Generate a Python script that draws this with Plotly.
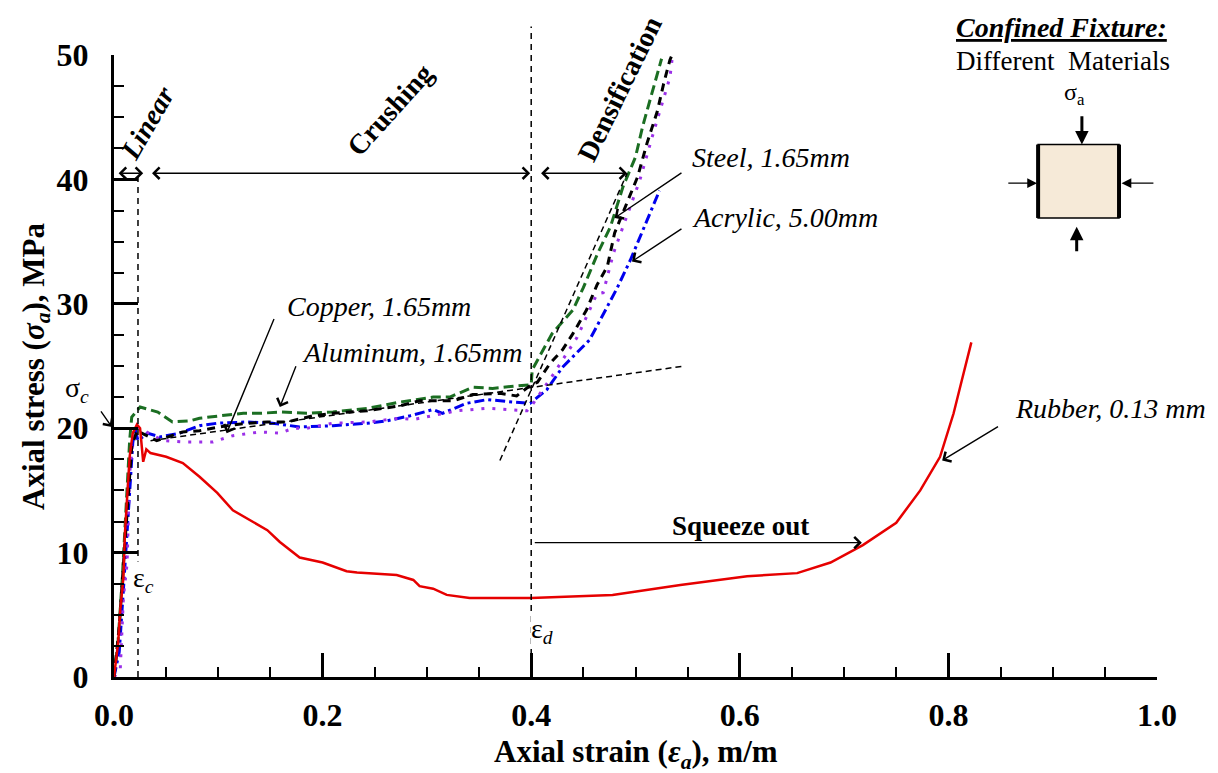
import plotly.graph_objects as go

# ---- axial strain (m/m) vs axial stress (MPa) for each specimen ----
rubber_strain = [0, 0.004, 0.006, 0.009, 0.0105, 0.0125, 0.015, 0.018, 0.022, 0.025, 0.028,
                 0.031, 0.035, 0.05, 0.066, 0.082, 0.099, 0.114, 0.13, 0.147, 0.159, 0.178,
                 0.200, 0.223, 0.233, 0.271, 0.287, 0.293, 0.306, 0.319, 0.341, 0.4, 0.478,
                 0.543, 0.607, 0.655, 0.687, 0.718, 0.75, 0.773, 0.792, 0.805, 0.813, 0.818, 0.822]
rubber_stress = [0, 2.8, 5.4, 8.0, 11.6, 14.5, 17.7, 19.6, 20.3, 20.0, 17.3,
                 18.3, 18.0, 17.7, 17.2, 16.1, 14.8, 13.4, 12.6, 11.8, 10.85, 9.6,
                 9.2, 8.5, 8.4, 8.2, 7.8, 7.3, 7.1, 6.6, 6.35, 6.35, 6.6,
                 7.4, 8.1, 8.35, 9.2, 10.6, 12.4, 15.0, 17.7, 21.2, 23.9, 25.5, 26.9]

aluminum_strain = [0, 0.004, 0.008, 0.012, 0.015, 0.017, 0.025, 0.042, 0.056, 0.073, 0.082,
                   0.102, 0.124, 0.140, 0.161, 0.185, 0.21, 0.243, 0.274, 0.306, 0.322, 0.344,
                   0.363, 0.386, 0.4, 0.401, 0.420, 0.440, 0.450, 0.464, 0.476, 0.488, 0.5,
                   0.507, 0.517, 0.525]
aluminum_stress = [0, 3, 8, 14, 19, 20.9, 21.7, 21.3, 20.5, 20.6, 20.8,
                   21.0, 21.2, 21.2, 21.3, 21.2, 21.3, 21.6, 22.1, 22.5, 22.5, 23.3,
                   23.2, 23.4, 23.5, 24.7, 27.6, 29.5, 31.3, 34.1, 36.2, 39.4, 41.8,
                   44.3, 47.2, 49.7]

acrylic_strain = [0, 0.005, 0.009, 0.013, 0.015, 0.018, 0.020, 0.023, 0.032, 0.044, 0.063,
                  0.082, 0.099, 0.128, 0.152, 0.178, 0.21, 0.243, 0.262, 0.284, 0.306, 0.315,
                  0.338, 0.358, 0.383, 0.399, 0.415, 0.430, 0.456, 0.469, 0.482, 0.495, 0.507,
                  0.523]
acrylic_stress = [0, 2, 7, 12.4, 15.6, 18.8, 20.0, 19.0, 19.6, 19.3, 19.6,
                  20.2, 20.4, 20.5, 20.4, 20.1, 20.2, 20.4, 20.6, 21.0, 21.5, 21.2,
                  22.0, 22.3, 22.1, 22.0, 23.1, 24.9, 27.1, 29.2, 31.2, 33.5, 35.9,
                  39.1]

steel_strain = [0, 0.005, 0.009, 0.013, 0.017, 0.022, 0.041, 0.066, 0.082, 0.108, 0.128,
                0.147, 0.166, 0.191, 0.21, 0.243, 0.274, 0.293, 0.325, 0.344, 0.370, 0.386,
                0.4, 0.406, 0.418, 0.430, 0.440, 0.453, 0.463, 0.473, 0.480, 0.502, 0.511,
                0.521, 0.527, 0.533, 0.535]
steel_stress = [0, 4, 9, 14, 18.5, 19.8, 19.0, 19.7, 19.8, 20.2, 20.4,
                20.5, 20.5, 21.0, 21.2, 21.4, 21.8, 22.2, 22.2, 22.7, 22.8, 22.6,
                23.5, 23.7, 25.2, 26.3, 27.6, 29.5, 31.5, 33.0, 35.7, 40.2, 42.9,
                45.5, 47.7, 49.6, 50.0]

copper_strain = [0, 0.006, 0.009, 0.0125, 0.015, 0.018, 0.022, 0.047, 0.066, 0.082, 0.095,
                 0.114, 0.140, 0.159, 0.172, 0.185, 0.21, 0.243, 0.274, 0.287, 0.329, 0.358,
                 0.396, 0.402, 0.421, 0.434, 0.444, 0.463, 0.469, 0.479, 0.492, 0.504, 0.517,
                 0.527, 0.533, 0.535]
copper_stress = [0, 0.6, 6.4, 9.1, 16.4, 18.8, 20.1, 19.0, 18.9, 18.9, 18.9,
                 19.4, 19.7, 19.6, 20.0, 20.0, 20.4, 20.5, 20.8, 20.7, 21.4, 21.6,
                 21.4, 22.0, 24.3, 26.0, 27.3, 30.8, 30.9, 34.1, 37.1, 39.9, 43.7,
                 46.4, 48.2, 49.6]

# fitted tangent lines used to locate the onset of densification
densif_fit_strain = [0.370, 0.492]
densif_fit_stress = [17.4, 40.5]
plateau_fit_strain = [0.035, 0.547]
plateau_fit_stress = [19.0, 25.0]

# characteristic points
eps_c = 0.023       # end of linear region
eps_d = 0.4         # onset of densification
sigma_c = 20.1      # crushing stress
region_arrow_y = 40.5

X_RANGE = [0, 1.0]
Y_RANGE = [0, 50]

FONT = "Liberation Serif"
W, H = 1218, 773
M = dict(l=114, r=61, t=55, b=96)


def xp(v):
    return (v - X_RANGE[0]) / (X_RANGE[1] - X_RANGE[0])


def yp(v):
    return (v - Y_RANGE[0]) / (Y_RANGE[1] - Y_RANGE[0])


fig = go.Figure()

series = [
    ("Aluminum, 1.65mm", aluminum_strain, aluminum_stress, "#1b6e22", "10px,5px", 3),
    ("Acrylic, 5.00mm", acrylic_strain, acrylic_stress, "#0000ee", "10px,4px,3px,4px", 3),
    ("Copper, 1.65mm", copper_strain, copper_stress, "#9b30e8", "3px,8px", 3),
    ("Steel, 1.65mm", steel_strain, steel_stress, "#000000", "8px,6px", 3),
    ("Rubber, 0.13 mm", rubber_strain, rubber_stress, "#e60000", "solid", 2.5),
]
for name, xs, ys, col, dash, w in series:
    fig.add_trace(go.Scatter(x=xs, y=ys, mode="lines", name=name,
                             line=dict(color=col, width=w, dash=dash)))

for xs, ys in [(densif_fit_strain, densif_fit_stress), (plateau_fit_strain, plateau_fit_stress)]:
    fig.add_trace(go.Scatter(x=xs, y=ys, mode="lines", showlegend=False, hoverinfo="skip",
                             line=dict(color="black", width=1.5, dash="6px,4px")))

shapes = [
    # end of the linear region
    dict(type="line", xref="x", yref="y", x0=eps_c, x1=eps_c, y0=0, y1=region_arrow_y,
         line=dict(color="black", width=1.5, dash="6px,5px")),
    # onset of densification, runs above the plot top
    dict(type="line", xref="paper", yref="paper", x0=xp(eps_d), x1=xp(eps_d), y0=0, y1=yp(52.3),
         line=dict(color="black", width=1.5, dash="6px,5px")),
    # specimen sketch
    dict(type="rect", xref="x", yref="y", x0=0.886, x1=0.9636, y0=36.9, y1=42.8,
         fillcolor="#f6ead8", line=dict(color="black", width=1.5)),
    dict(type="line", xref="x", yref="y", x0=0.886, x1=0.886, y0=36.9, y1=42.8,
         line=dict(color="black", width=4)),
    dict(type="line", xref="x", yref="y", x0=0.9636, x1=0.9636, y0=36.9, y1=42.8,
         line=dict(color="black", width=4)),
]


def arrow(xh, yh, xt, yt, both=False, head=4, size=1.6, width=1.4):
    d = dict(x=xh, y=yh, ax=xt, ay=yt, xref="x", yref="y", axref="x", ayref="y",
             text="", showarrow=True, arrowhead=head, arrowsize=size, arrowwidth=width,
             arrowcolor="black", arrowside="end+start" if both else "end")
    if both:
        d.update(startarrowhead=head, startarrowsize=size)
    return d


def label(x, y, txt, size=28, xanchor="left", angle=0, xref="x", yref="y", bg=None):
    d = dict(x=x, y=y, xref=xref, yref=yref, text=txt, showarrow=False, xanchor=xanchor,
             yanchor="middle", textangle=angle,
             font=dict(family=FONT, size=size, color="black"))
    if bg:
        d.update(bgcolor=bg, borderpad=0)
    return d


annotations = [
    # region arrows
    arrow(0.028, region_arrow_y, 0.003, region_arrow_y, both=True),
    arrow(0.399, region_arrow_y, 0.035, region_arrow_y, both=True),
    arrow(0.492, region_arrow_y, 0.408, region_arrow_y, both=True),
    label(0.032, 44.6, "<b><i>Linear</i></b>", xanchor="center", angle=-60),
    label(0.265, 45.6, "<b>Crushing</b>", xanchor="center", angle=-48),
    label(0.485, 47.3, "<b>Densification</b>", xanchor="center", angle=-64),
    # squeeze out
    arrow(0.717, 10.8, 0.402, 10.8),
    label(0.601, 12.1, "<b>Squeeze out</b>", size=27, xanchor="center"),
    # specimen labels
    label(0.552, 41.8, "<i>Steel, 1.65mm</i>"),
    arrow(0.480, 36.9, 0.5455, 40.6),
    label(0.552, 36.9, "<i>Acrylic, 5.00mm</i>"),
    arrow(0.4966, 33.4, 0.5455, 36.1),
    label(0.164, 29.8, "<i>Copper, 1.65mm</i>"),
    arrow(0.108, 19.6, 0.154, 28.9),
    label(0.178, 26.1, "<i>Aluminum, 1.65mm</i>"),
    arrow(0.159, 21.7, 0.175, 25.1),
    label(0.862, 21.6, "<i>Rubber, 0.13 mm</i>"),
    arrow(0.794, 17.4, 0.849, 20.2),
    # characteristic points
    label(0.028, 7.8, "ε<sub><i>c</i></sub>", xanchor="center", bg="white"),
    label(0.41, 3.7, "ε<sub><i>d</i></sub>", xanchor="center", bg="white"),
    label(-0.0355, 23.1, "σ<sub><i>c</i></sub>", xanchor="center", xref="paper"),
    dict(x=-0.002, y=sigma_c, xref="paper", yref="y", ax=-12, ay=-17, text="",
         showarrow=True, arrowhead=4, arrowsize=1.6, arrowwidth=1.4, arrowcolor="black"),
    # specimen sketch
    arrow(0.928, 42.8, 0.928, 45.2, head=2, size=0.9, width=3),
    arrow(0.923, 36.2, 0.923, 34.1, head=2, size=0.9, width=3),
    arrow(0.885, 39.7, 0.856, 39.7, head=2, size=1.4, width=1.4),
    arrow(0.966, 39.7, 0.998, 39.7, head=2, size=1.4, width=1.4),
    label(0.921, 46.9, "σ<sub>a</sub>", size=24, xanchor="center"),
    label(1.008, 38.9, "<i>q</i>", size=28),
    label(0.908, 1.045, "<b><i><u>Confined Fixture:</u></i></b>", size=28, xanchor="center",
          xref="paper", yref="paper"),
    label(0.91, 0.99, "Different  Materials", size=27, xanchor="center",
          xref="paper", yref="paper"),
    # axis titles
    label(0.5, -0.123, "<b>Axial strain (<i>ε</i><sub><i>a</i></sub>), m/m</b>", size=31,
          xanchor="center", xref="paper", yref="paper"),
    label(-0.0748, 0.50, "<b>Axial stress (<i>σ</i><sub><i>a</i></sub>), MPa</b>", size=31,
          xanchor="center", angle=-90, xref="paper", yref="paper"),
]

tickfont = dict(family=FONT, size=32, color="black", weight="bold")
axis_common = dict(showgrid=False, zeroline=False, showline=True, linecolor="black",
                   linewidth=3, ticks="inside", ticklen=24, tickwidth=2.5, tickcolor="black",
                   tickfont=tickfont, mirror=False)

fig.update_layout(
    width=W, height=H, margin=M,
    paper_bgcolor="white", plot_bgcolor="white",
    showlegend=False,
    xaxis=dict(range=X_RANGE, tickmode="linear", tick0=0, dtick=0.2, tickformat=".1f",
               ticklabelstandoff=8,
               minor=dict(tickmode="linear", tick0=0, dtick=0.05, ticks="inside",
                          ticklen=10, tickwidth=2, tickcolor="black", showgrid=False),
               **axis_common),
    yaxis=dict(range=Y_RANGE, tickmode="linear", tick0=0, dtick=10, ticklabelstandoff=16,
               minor=dict(tickmode="linear", tick0=0, dtick=2.5, ticks="inside",
                          ticklen=10, tickwidth=2, tickcolor="black", showgrid=False),
               **axis_common),
    shapes=shapes,
    annotations=annotations,
    font=dict(family=FONT, color="black"),
)

fig.write_html("out.html")
